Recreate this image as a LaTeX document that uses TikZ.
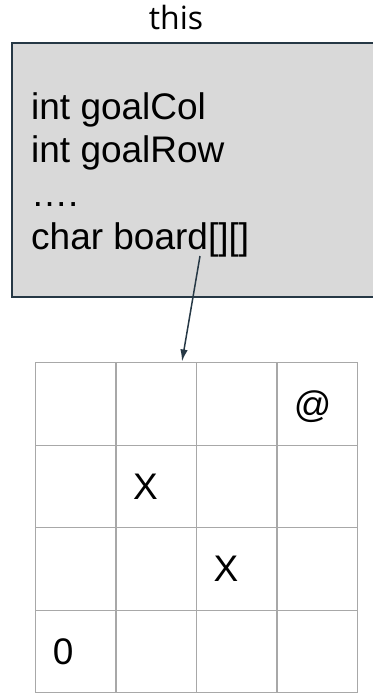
\documentclass[tikz,border=0pt]{standalone}
\usepackage{xcolor}
\usepackage{fontspec}
\usepackage{tikz}
\usetikzlibrary{arrows.meta, positioning}
\setmainfont{Liberation Sans}
\newfontfamily\titlefont{Open Sans}
\definecolor{objfill}{HTML}{D9D9D9}
\definecolor{objline}{HTML}{263845}
\definecolor{gridline}{HTML}{A8A8A8}

\begin{document}
\begin{tikzpicture}[x=1pt, y=-1pt,
    field/.style={anchor=base west, inner sep=0pt, font=\fontsize{37}{44}\selectfont},
    cell/.style={draw=gridline, line width=1.3pt, minimum width=80.4pt, minimum height=82.5pt, inner sep=0pt},
    celltext/.style={anchor=west, inner sep=0pt, text depth=0pt, font=\fontsize{37}{44}\selectfont}]
  \useasboundingbox (0,0) rectangle (372,693);
  % object "this" with its fields
  \node[font=\titlefont\fontsize{32}{38}\selectfont, anchor=base, inner sep=0pt] (title) at (176,29.3) {this};
  \node[draw=objline, fill=objfill, line width=1.5pt, minimum width=366pt, minimum height=254pt, inner sep=0pt] (thisbox) at (195,170) {};
  \node[field] (goalcol) at (31,119) {int goalCol};
  \node[field] (goalrow) at (31,162.5) {int goalRow};
  \node[field] (dots) at (31,206) {….};
  \node[field] (boardfld) at (31,249.5) {char board[][]};
  % the 4x4 board
  \foreach \r in {1,...,4} {
    \foreach \c in {1,...,4} {
      \node[cell] (c-\r-\c) at (35.7+80.4*\c-40.2, 362.7+82.5*\r-41.25) {};
    }
  }
  \node[celltext, right=17.5pt of c-1-4.west] (goal) {@};
  \node[celltext, right=17.5pt of c-2-2.west] (wall1) {X};
  \node[celltext, right=17.5pt of c-3-3.west] (wall2) {X};
  \node[celltext, right=17.5pt of c-4-1.west] (start) {0};
  % reference from the field to the array
  \coordinate (ptr) at (200,256);
  \coordinate (arr) at (182,361.5);
  \draw[objline, line width=1.5pt, -{Latex[length=12pt, width=7.5pt]}] (ptr) -- (arr);
\end{tikzpicture}
\end{document}
